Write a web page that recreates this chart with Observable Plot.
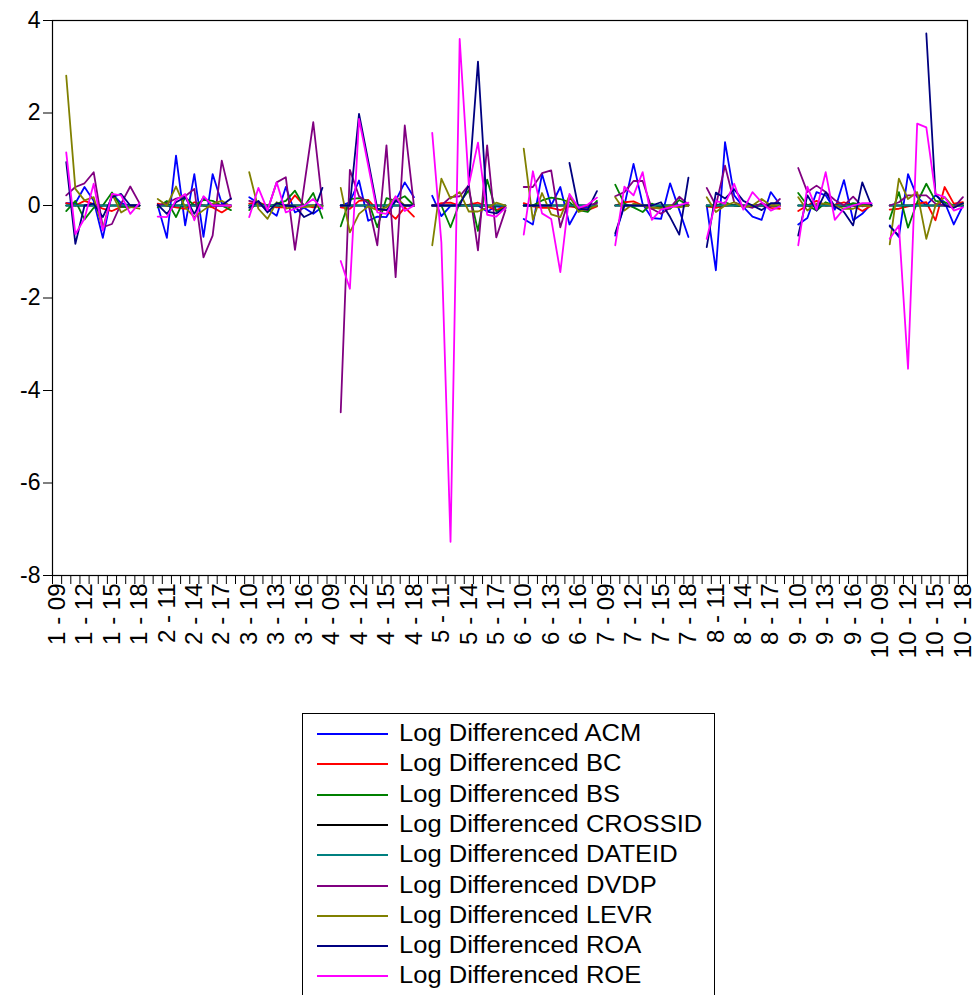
<!DOCTYPE html>
<html>
<head>
<meta charset="utf-8">
<script src="https://cdn.jsdelivr.net/npm/d3@7"></script>
<script src="https://cdn.jsdelivr.net/npm/@observablehq/plot@0.6"></script>
<style>
  html, body { margin: 0; padding: 0; background: #fff; }
  body { position: relative; width: 977px; height: 995px; overflow: hidden; font-family: Arial, "Liberation Sans", sans-serif; }
  #chart { position: absolute; left: 0; top: 0; }
  #legend { position: absolute; left: 302px; top: 713px; width: 413px; height: 300px; border: 1px solid #000; box-sizing: border-box; }
  .row { position: absolute; left: 0; height: 30px; width: 100%; }
  .swatch { position: absolute; left: 14px; width: 71px; height: 2px; top: 15px; }
  .lab { position: absolute; left: 96px; top: 1px; font-size: 23px; line-height: 28px; color: #000; white-space: nowrap; transform: scaleX(1.11); transform-origin: 0 50%; }
</style>
</head>
<body>
<div id="chart"></div>
<div id="legend"></div>
<script>
// Cross-sections and years of the panel
const sections = [1, 2, 3, 4, 5, 6, 7, 8, 9, 10];
const years = ["09", "10", "11", "12", "13", "14", "15", "16", "17", "18"];
const yTicks = [-8, -6, -4, -2, 0, 2, 4];

// Series values: one row per cross-section, years 09..18 (09 is NA after differencing)
const ACM = [
  [null, 0.05, 0.05, 0.4, 0.1, -0.7, 0.25, 0.05, 0.0, 0.0],
  [null, 0.0, -0.7, 1.08, -0.43, 0.68, -0.68, 0.68, 0.05, 0.0],
  [null, 0.18, 0.05, -0.08, -0.22, 0.4, -0.15, -0.05, -0.18, -0.03],
  [null, 0.0, 0.07, 0.54, -0.33, -0.24, -0.25, 0.1, 0.5, 0.18],
  [null, 0.21, -0.23, -0.01, 0.02, 0.0, 0.0, -0.13, -0.02, -0.05],
  [null, -0.29, -0.41, 0.68, 0.0, 0.4, -0.41, -0.05, -0.05, 0.07],
  [null, -0.65, 0.0, 0.9, 0.03, -0.27, -0.29, 0.48, -0.1, -0.68],
  [null, 0.0, -1.4, 1.37, 0.22, -0.03, -0.24, -0.31, 0.29, 0.02],
  [null, -0.41, -0.27, 0.29, 0.22, -0.09, 0.55, -0.32, -0.18, 0.04],
  [null, -0.43, -0.68, 0.68, 0.18, 0.0, 0.22, 0.07, -0.41, 0.0]
];
const BC = [
  [null, 0.05, 0.0, 0.1, 0.03, -0.07, -0.12, -0.03, 0.0, 0.0],
  [null, 0.04, 0.0, -0.04, -0.07, 0.07, 0.0, -0.04, -0.15, -0.02],
  [null, 0.04, 0.07, 0.0, -0.04, -0.04, 0.22, 0.0, -0.04, 0.0],
  [null, -0.04, -0.07, 0.1, 0.12, -0.1, -0.1, -0.29, -0.04, -0.24],
  [null, 0.0, 0.05, 0.06, 0.0, 0.02, 0.06, -0.02, -0.1, -0.02],
  [null, 0.05, -0.02, -0.05, -0.05, -0.1, -0.02, -0.05, -0.1, -0.02],
  [null, 0.0, 0.07, 0.09, 0.0, -0.07, -0.02, -0.02, -0.02, 0.02],
  [null, -0.02, -0.05, 0.0, 0.02, -0.02, 0.0, 0.0, -0.05, -0.07],
  [null, -0.12, 0.0, 0.1, 0.0, 0.02, 0.07, 0.0, -0.12, 0.0],
  [null, -0.09, -0.07, -0.02, 0.04, 0.07, -0.32, 0.4, 0.04, 0.07]
];
const BS = [
  [null, -0.12, 0.1, -0.3, -0.05, 0.0, 0.28, -0.03, -0.04, 0.0],
  [null, -0.04, 0.1, -0.25, 0.18, 0.0, 0.12, 0.1, 0.0, -0.1],
  [null, -0.1, 0.07, -0.04, 0.04, 0.1, 0.32, -0.02, 0.27, -0.27],
  [null, -0.45, 0.14, 0.16, 0.1, -0.47, 0.16, 0.1, 0.2, 0.0],
  [null, 0.0, 0.0, -0.47, 0.06, 0.33, -0.55, 0.56, -0.13, -0.05],
  [null, 0.0, 0.0, 0.11, 0.17, 0.14, 0.07, -0.1, -0.14, 0.1],
  [null, 0.45, 0.04, -0.04, -0.14, 0.04, -0.04, -0.07, 0.12, 0.0],
  [null, -0.02, 0.0, 0.07, 0.0, -0.02, -0.02, 0.02, 0.0, -0.02],
  [null, 0.27, 0.0, -0.11, 0.07, 0.0, -0.02, 0.05, 0.02, 0.0],
  [null, -0.29, 0.29, -0.48, 0.07, 0.47, 0.1, 0.07, 0.0, 0.04]
];
const CROSSID = [
  [null, 0, 0, 0, 0, 0, 0, 0, 0, 0], [null, 0, 0, 0, 0, 0, 0, 0, 0, 0],
  [null, 0, 0, 0, 0, 0, 0, 0, 0, 0], [null, 0, 0, 0, 0, 0, 0, 0, 0, 0],
  [null, 0, 0, 0, 0, 0, 0, 0, 0, 0], [null, 0, 0, 0, 0, 0, 0, 0, 0, 0],
  [null, 0, 0, 0, 0, 0, 0, 0, 0, 0], [null, 0, 0, 0, 0, 0, 0, 0, 0, 0],
  [null, 0, 0, 0, 0, 0, 0, 0, 0, 0], [null, 0, 0, 0, 0, 0, 0, 0, 0, 0]
];
const DATEID = [
  [null, 0, 0, 0, 0, 0, 0, 0, 0, 0], [null, 0, 0, 0, 0, 0, 0, 0, 0, 0],
  [null, 0, 0, 0, 0, 0, 0, 0, 0, 0], [null, 0, 0, 0, 0, 0, 0, 0, 0, 0],
  [null, 0, 0, 0, 0, 0, 0, 0, 0, 0], [null, 0, 0, 0, 0, 0, 0, 0, 0, 0],
  [null, 0, 0, 0, 0, 0, 0, 0, 0, 0], [null, 0, 0, 0, 0, 0, 0, 0, 0, 0],
  [null, 0, 0, 0, 0, 0, 0, 0, 0, 0], [null, 0, 0, 0, 0, 0, 0, 0, 0, 0]
];
const DVDP = [
  [null, 0.22, 0.4, 0.48, 0.72, -0.47, -0.4, 0.04, 0.41, 0.05],
  [null, 0.0, 0.05, 0.15, 0.2, 0.36, -1.12, -0.65, 0.97, 0.14],
  [null, 0.1, 0.05, -0.1, 0.5, 0.61, -0.96, 0.42, 1.8, 0.03],
  [null, -4.47, 0.77, 0.2, 0.05, -0.86, 1.3, -1.55, 1.73, 0.0],
  [null, 0.0, 0.0, 0.18, 0.2, 0.44, -0.97, 1.3, -0.69, -0.1],
  [null, 0.4, 0.4, 0.7, 0.76, -0.47, 0.18, -0.07, 0.0, 0.05],
  [null, 0.2, 0.29, 0.53, 0.53, -0.07, -0.18, -0.05, 0.19, 0.02],
  [null, 0.38, 0.0, 0.86, 0.07, 0.0, -0.05, 0.05, -0.03, 0.14],
  [null, 0.81, 0.29, 0.43, 0.29, 0.12, 0.0, 0.19, -0.02, 0.02],
  [null, 0.0, 0.07, 0.22, 0.22, 0.22, 0.04, 0.0, -0.04, 0.18]
];
const LEVR = [
  [null, 2.81, 0.36, 0.11, 0.18, -0.5, 0.25, -0.15, -0.03, -0.07],
  [null, 0.14, 0.0, 0.41, -0.04, -0.25, -0.1, 0.04, 0.1, -0.02],
  [null, 0.72, -0.07, -0.29, 0.07, -0.07, -0.02, -0.04, 0.0, -0.02],
  [null, 0.38, -0.58, -0.18, -0.02, -0.1, -0.04, 0.18, 0.0, 0.0],
  [null, -0.86, 0.58, 0.15, 0.29, -0.13, -0.13, -0.05, 0.06, 0.0],
  [null, 1.23, -0.31, 0.27, -0.19, -0.25, 0.22, -0.14, -0.07, 0.0],
  [null, 0.18, -0.11, 0.04, 0.0, -0.04, -0.07, 0.0, -0.04, 0.0],
  [null, 0.18, -0.14, 0.0, 0.07, -0.04, 0.0, 0.14, 0.0, 0.0],
  [null, 0.18, -0.11, 0.04, 0.04, 0.0, -0.07, -0.07, 0.0, -0.02],
  [null, -0.84, 0.58, 0.14, 0.29, -0.72, 0.0, 0.18, -0.04, 0.04]
];
const ROA = [
  [null, 0.94, -0.83, 0.0, 0.04, -0.25, 0.18, 0.25, 0.0, 0.0],
  [null, 0.02, -0.18, 0.07, 0.18, -0.18, 0.18, 0.0, 0.0, 0.15],
  [null, -0.05, 0.1, -0.15, 0.05, 0.0, -0.02, -0.25, -0.15, 0.38],
  [null, 0.0, 0.0, 1.98, 0.97, -0.07, -0.1, 0.1, 0.0, 0.0],
  [null, 0.0, 0.0, 0.0, 0.0, 0.44, 3.11, -0.13, -0.17, -0.05],
  [null, 0.0, 0.0, 0.0, 0.0, null, 0.92, -0.07, -0.09, 0.31],
  [null, -0.6, 0.0, 0.0, 0.0, 0.0, 0.07, -0.25, -0.63, 0.6],
  [null, -0.9, 0.28, 0.15, 0.35, 0.1, 0.0, -0.1, 0.05, 0.05],
  [null, -0.65, 0.22, -0.11, 0.29, -0.02, -0.14, -0.43, 0.5, 0.0],
  [null, -0.45, -0.65, null, null, 3.72, 0.25, 0.0, -0.05, 0.05]
];
const ROE = [
  [null, 1.15, -0.62, -0.28, 0.47, -0.54, 0.25, 0.22, -0.18, 0.05],
  [null, -0.24, -0.25, 0.12, 0.25, -0.32, 0.2, 0.0, 0.0, 0.0],
  [null, -0.25, 0.38, -0.1, 0.5, -0.15, -0.07, 0.0, 0.14, -0.07],
  [null, -1.2, -1.8, 1.87, 0.87, -0.15, -0.18, 0.2, -0.12, 0.0],
  [null, 1.57, -0.8, -7.27, 3.6, 0.44, 1.36, -0.2, -0.24, -0.05],
  [null, -0.63, 0.74, -0.17, -0.29, -1.44, 0.25, -0.05, 0.02, 0.17],
  [null, -0.86, 0.41, 0.22, 0.72, -0.31, -0.09, -0.04, 0.01, 0.06],
  [null, -0.72, 0.1, 0.04, 0.47, -0.09, 0.29, 0.07, -0.11, -0.02],
  [null, -0.86, 0.41, -0.09, 0.72, -0.31, -0.07, 0.0, 0.05, 0.05],
  [null, -0.72, -0.43, -3.53, 1.77, 1.69, 0.25, 0.18, -0.11, -0.04]
];

const seriesNames = ["ACM", "BC", "BS", "CROSSID", "DATEID", "DVDP", "LEVR", "ROA", "ROE"];
const seriesColors = ["#0000ff", "#ff0000", "#008000", "#000000", "#008080", "#800080", "#808000", "#000080", "#ff00ff"];
const seriesValues = [ACM, BC, BS, CROSSID, DATEID, DVDP, LEVR, ROA, ROE];

// Observation labels "1 - 09" ... "10 - 18"
const obsLabels = sections.flatMap(s => years.map(y => `${s} - ${y}`));
const boundaries = d3.range(0, obsLabels.length + 1).map(k => k - 0.5);
const labelIdx = d3.range(0, obsLabels.length, 3);

const lineMarks = seriesValues.map((vals, k) => {
  const rows = vals.flat().map((v, i) => ({i, v}));
  return Plot.line(rows, {x: "i", y: "v", stroke: seriesColors[k], strokeWidth: 1.8, curve: "linear"});
});

const chart = Plot.plot({
  width: 977,
  height: 710,
  marginLeft: 52,
  marginRight: 10,
  marginTop: 20,
  marginBottom: 135,
  x: {domain: [-0.5, obsLabels.length - 0.5], axis: null},
  y: {domain: [-8, 4], axis: null},
  style: {fontFamily: "Arial, 'Liberation Sans', sans-serif", fontSize: "22px", color: "#000", background: "#fff", overflow: "visible"},
  marks: [
    ...lineMarks,
    Plot.frame({stroke: "#000", strokeWidth: 1.2}),
    Plot.axisY({ticks: yTicks, tickFormat: d => String(d), tickSize: 9, tickPadding: 3, fontSize: 23, label: null}),
    Plot.axisX({ticks: boundaries, tickFormat: () => "", tickSize: 9, label: null}),
    Plot.axisX({ticks: labelIdx, tickFormat: i => obsLabels[i], tickSize: 0, tickPadding: 8, tickRotate: -90, fontSize: 24, label: null})
  ]
});
document.getElementById("chart").appendChild(chart);

// Legend below the chart
const legend = d3.select("#legend");
seriesNames.forEach((name, k) => {
  const row = legend.append("div").attr("class", "row").style("top", `${4 + k * 30.3}px`);
  row.append("div").attr("class", "swatch").style("background", seriesColors[k]);
  row.append("div").attr("class", "lab").text(`Log Differenced ${name}`);
});
</script>
</body>
</html>
